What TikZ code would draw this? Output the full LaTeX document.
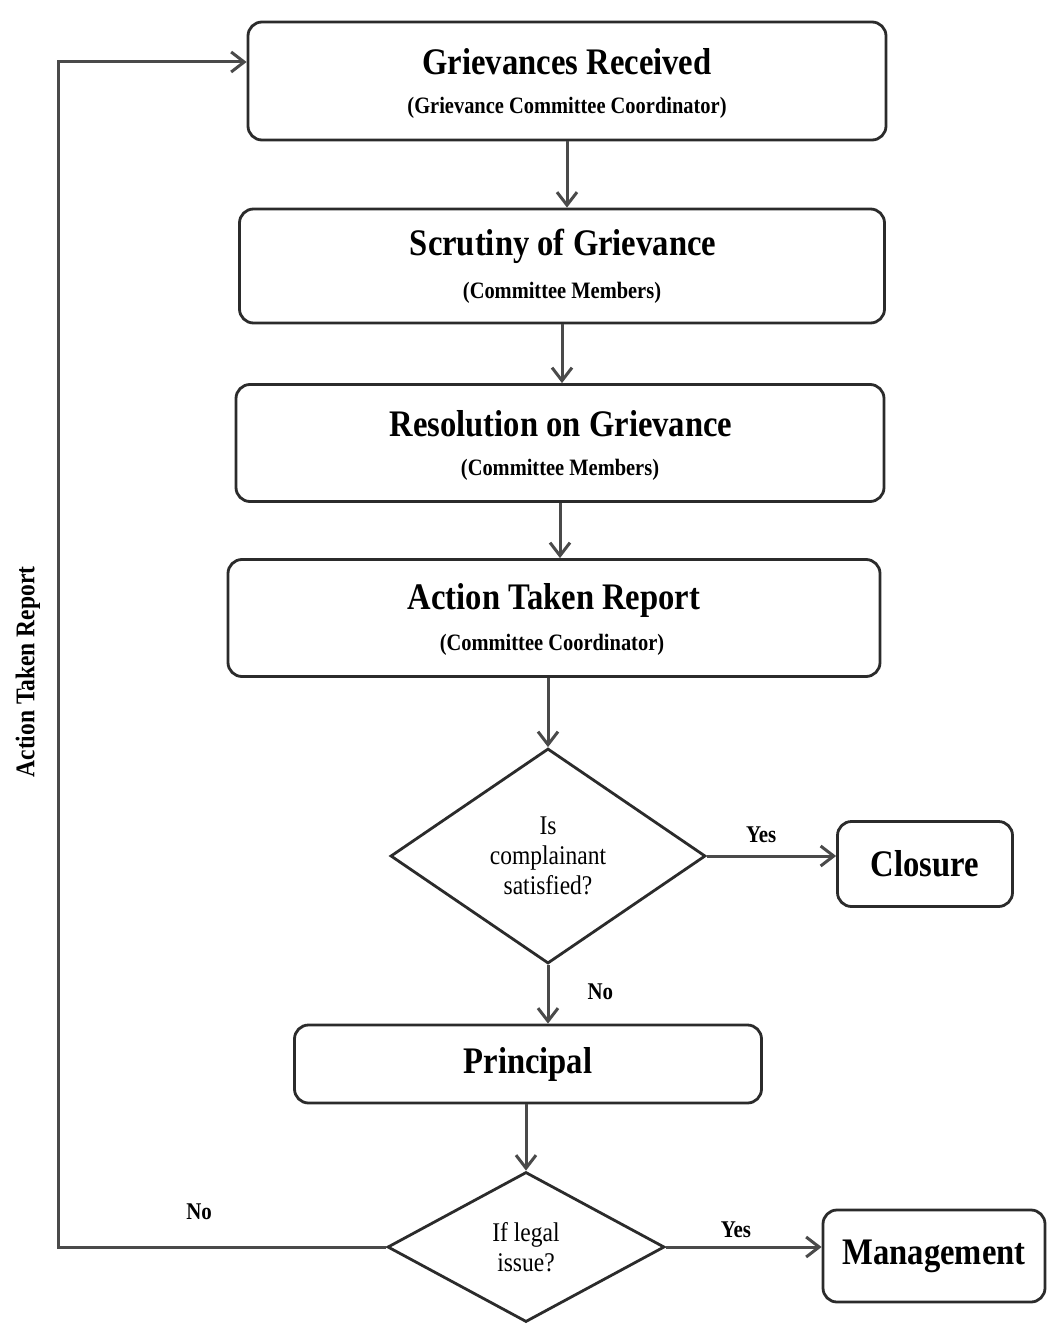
\documentclass[tikz,border=0pt]{standalone}
\usepackage{fontspec}
\setmainfont{Liberation Serif}[FakeStretch=0.87]
\usetikzlibrary{shapes.geometric,arrows.meta}
\definecolor{boxc}{HTML}{2B2B2B}
\definecolor{linec}{HTML}{4A4A4A}
\begin{document}
\begin{tikzpicture}[x=1pt,y=-1pt,
  procbox/.style={draw=boxc, line width=2.8pt, rounded corners=14pt, inner sep=0pt},
  decision/.style={diamond, draw=boxc, line width=2.8pt, inner sep=0pt, aspect=1.5, align=center,
    font=\fontsize{27}{30}\selectfont},
  flow/.style={draw=linec, line width=3pt, -{Straight Barb[length=13pt,width=20pt,line width=3pt]}},
  ttl/.style={font=\fontsize{37.5}{40}\selectfont\bfseries, inner sep=0pt},
  subttl/.style={font=\fontsize{23.5}{26}\selectfont\bfseries, inner sep=0pt},
  lbl/.style={font=\fontsize{24}{26}\selectfont\bfseries, inner sep=0pt}]
\useasboundingbox[fill=white] (0,0) rectangle (1048,1324);

% process boxes
\node[procbox, minimum width=638pt, minimum height=118pt] (b1) at (567,81) {};
\node[ttl] (t1) at (567,62) {Grievances Received};
\node[subttl] (s1) at (567,108) {(Grievance Committee Coordinator)};

\node[procbox, minimum width=645pt, minimum height=114pt] (b2) at (562,266) {};
\node[ttl] (t2) at (563,246) {Scrutiny of Grievance};
\node[subttl] (s2) at (562,293) {(Committee Members)};

\node[procbox, minimum width=648pt, minimum height=117pt] (b3) at (560,443) {};
\node[ttl] (t3) at (561,424) {Resolution on Grievance};
\node[subttl] (s3) at (560,470) {(Committee Members)};

\node[procbox, minimum width=652pt, minimum height=117pt] (b4) at (554,618) {};
\node[ttl] (t4) at (554,600) {Action Taken Report};
\node[subttl] (s4) at (552,645) {(Committee Coordinator)};

% decisions
\node[decision, minimum width=315pt, minimum height=215pt] (d1) at (548,856) {Is\\complainant\\satisfied?};
\node[procbox, minimum width=175pt, minimum height=85pt, font=\fontsize{37.5}{40}\selectfont\bfseries] (cl) at (925,864) {Closure};

\node[procbox, minimum width=467pt, minimum height=78pt, font=\fontsize{37.5}{40}\selectfont\bfseries] (pr) at (528,1064) {Principal};

\node[decision, minimum width=277pt, minimum height=150pt] (d2) at (526,1247) {If legal\\issue?};
\node[procbox, minimum width=222pt, minimum height=92pt, font=\fontsize{37.5}{40}\selectfont\bfseries] (mg) at (934,1256) {Management};

% loop coordinate and label
\coordinate (lx) at (58,0);
\node[lbl, rotate=90, font=\fontsize{27}{30}\selectfont\bfseries] (atr) at (28,672) {Action Taken Report};

% connectors
\draw[flow] (b1.south) -- (b1.south |- b2.north);
\draw[flow] (b2.south) -- (b2.south |- b3.north);
\draw[flow] (b3.south) -- (b3.south |- b4.north);
\draw[flow] (b4.south -| d1.north) -- (d1.north);
\draw[flow] (d1.east) -- node[lbl, above=12pt, pos=0.42] (y1) {Yes} (d1.east -| cl.west);
\draw[flow] (d1.south) -- node[lbl, right=38pt, pos=0.45] (n1) {No} (d1.south |- pr.north);
\draw[flow] (pr.south -| d2.north) -- (d2.north);
\draw[flow] (d2.east) -- node[lbl, above=8pt, pos=0.45] (y2) {Yes} (d2.east -| mg.west);
\draw[flow] (d2.west) -- node[lbl, above=26pt, pos=0.57] (n2) {No} (d2.west -| lx) -- (lx |- t1) -- (t1 -| b1.west);
\end{tikzpicture}
\end{document}
